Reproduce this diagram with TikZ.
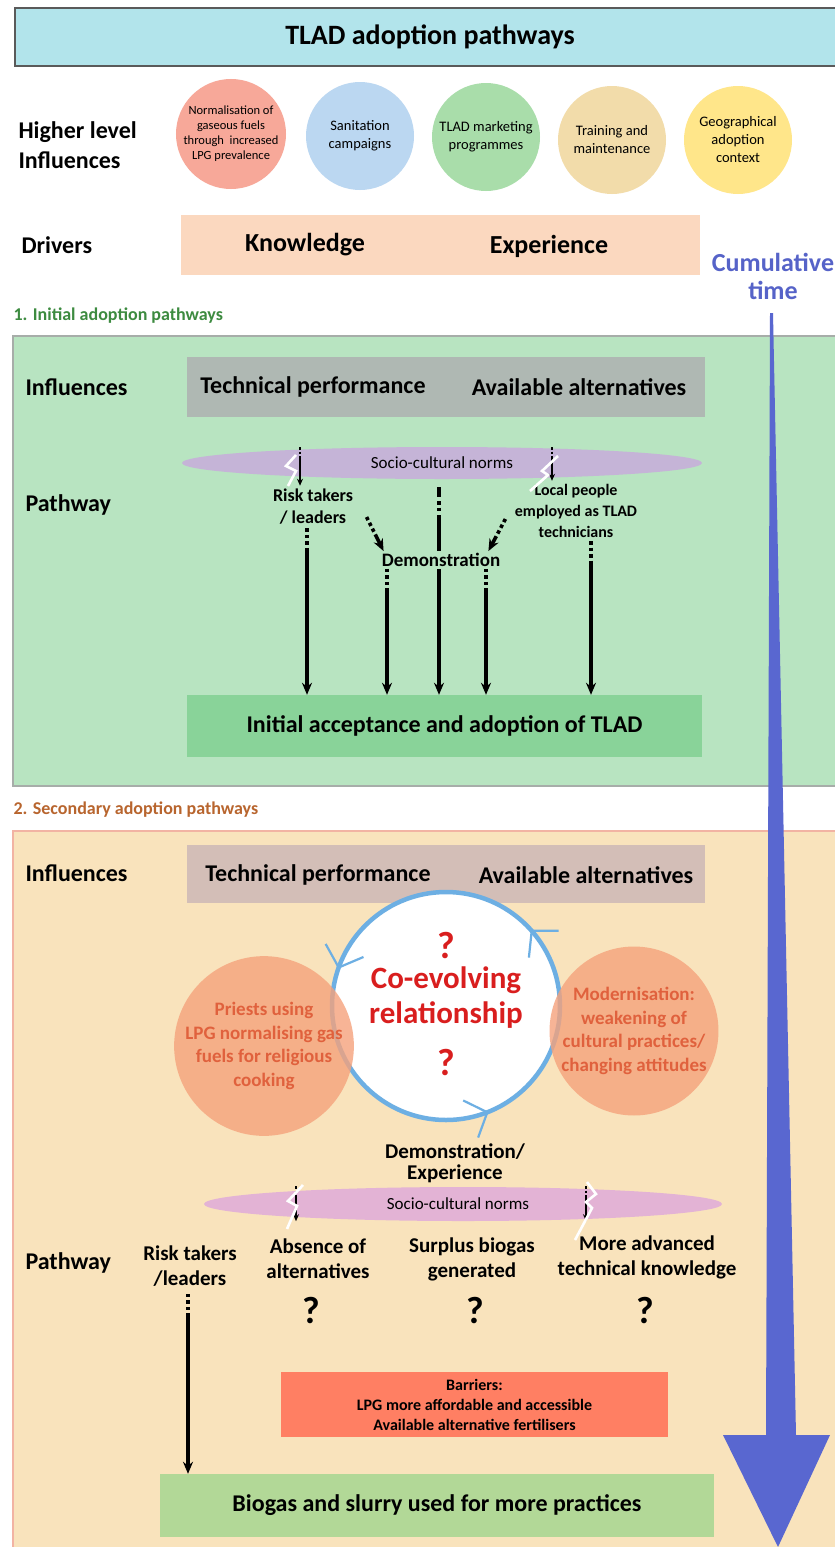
\documentclass[tikz,border=0pt]{standalone}
\usepackage{fontspec}
\setmainfont{Carlito}
\usepackage{tikz}
\usetikzlibrary{positioning,arrows.meta,shapes.geometric}

\definecolor{titlecyan}{HTML}{B2E4EB}
\definecolor{titleline}{HTML}{5A5A5A}
\definecolor{bsalmon}{HTML}{F7A899}
\definecolor{bblue}{HTML}{BBD7F1}
\definecolor{bgreen}{HTML}{A9DDAA}
\definecolor{btan}{HTML}{F2DCAA}
\definecolor{byellow}{HTML}{FFE68A}
\definecolor{driverpeach}{HTML}{FBD8BF}
\definecolor{cumblue}{HTML}{5663C8}
\definecolor{arrowblue}{HTML}{5967D0}
\definecolor{secagreen}{HTML}{3D8B40}
\definecolor{secafill}{HTML}{B8E4C1}
\definecolor{secaline}{HTML}{A7ADA9}
\definecolor{inflgray}{HTML}{AFB8B3}
\definecolor{normsa}{HTML}{C5B4D7}
\definecolor{initgreen}{HTML}{89D399}
\definecolor{secbbrown}{HTML}{B8652E}
\definecolor{secbfill}{HTML}{F9E3BC}
\definecolor{secbline}{HTML}{F2B3A3}
\definecolor{inflmauve}{HTML}{D3BEB7}
\definecolor{cycblue}{HTML}{6DAFE3}
\definecolor{cored}{HTML}{D91E1E}
\definecolor{orbfill}{HTML}{F5A27C}
\definecolor{orbtext}{HTML}{E0613D}
\definecolor{normsb}{HTML}{E3B3D5}
\definecolor{barrierred}{HTML}{FF7F63}
\definecolor{biogasgreen}{HTML}{B2D897}

\newcommand{\fsz}[2]{\fontsize{#1}{#2}\selectfont}

\begin{document}
\begin{tikzpicture}[x=1pt,y=-1pt,
	lbl/.style={anchor=west, font=\bfseries\fsz{24}{30}, align=left},
	big/.style={font=\bfseries\fsz{24}{28}},
	mid/.style={font=\bfseries\fsz{21}{25}, align=center},
	bar/.style={anchor=north west, inner sep=0pt},
	bubble/.style={circle, inner sep=0pt, minimum size=108pt, align=center, font=\fsz{14.5}{18}},
	orb/.style={circle, inner sep=0pt, fill=orbfill, fill opacity=0.8, text opacity=1, text=orbtext, align=center, font=\bfseries\fsz{19}{23.5}},
	norms/.style={ellipse, inner sep=0pt, minimum width=520pt, minimum height=32pt, font=\fsz{17}{20}},
	flow/.style={line width=3.6pt, -{Stealth[length=12pt,width=10pt]}},
	lead/.style={dash pattern=on 3.5pt off 3pt on 3.5pt off 3pt on 3.5pt off 3pt on 600pt},
	leadsolid/.style={dash pattern=on 10pt off 4pt on 3.5pt off 3pt on 3.5pt off 4pt on 600pt},
	smallflow/.style={line width=1.6pt, -{Stealth[length=7pt,width=6pt]}, dash pattern=on 2.5pt off 2pt on 2.5pt off 2pt on 100pt},
	zig/.style={white, line width=2.6pt},
	qmark/.style={font=\bfseries\fsz{38}{40}},
	cyc/.style={cycblue, line width=2.2pt, -{Straight Barb[length=18pt,width=40pt]}}]

	\useasboundingbox (0,0) rectangle (835,1547);
	\fill[white] (0,0) rectangle (835,1547);

	% header
	\node[fill=titlecyan, draw=titleline, line width=2pt, minimum width=830pt, minimum height=58pt, font=\bfseries\fsz{28}{32}] (title) at (430,37) {TLAD adoption pathways};

	\node[lbl] (hl) at (15,145) {Higher level\\Influences};
	\node[bubble, fill=bsalmon, font=\fsz{12.5}{15}] (c1) at (231,134) {Normalisation of\\gaseous fuels\\through~ increased\\LPG prevalence};
	\node[bubble, fill=bblue] (c2) at (360,136) {Sanitation\\campaigns};
	\node[bubble, fill=bgreen] (c3) at (486,137) {TLAD marketing\\programmes};
	\node[bubble, fill=btan] (c4) at (612,140) {Training and\\maintenance};
	\node[bubble, fill=byellow] (c5) at (738,140) {Geographical\\adoption\\context};

	\node[lbl] (drv) at (18,245) {Drivers};
	\node[bar, fill=driverpeach, minimum width=519pt, minimum height=60pt] (drvbox) at (181,215) {};
	\node[big, font=\bfseries\fsz{26}{30}] (know) at (305,245) {Knowledge};
	\node[big, font=\bfseries\fsz{26}{30}] (exper) at (549,246) {Experience};

	\node[font=\bfseries\fsz{26}{28}, text=cumblue, align=center] (cum) at (773,276) {Cumulative\\time};

	% 1. initial
	\node[anchor=west, font=\bfseries\fsz{18}{22}, text=secagreen] (seca) at (10,316) {1. Initial adoption pathways};
	\node[bar, fill=secafill, draw=secaline, line width=2pt, minimum width=830pt, minimum height=450pt] (secabox) at (12,335) {};

	\node[lbl] (infla) at (22,387) {Influences};
	\node[bar, fill=inflgray, minimum width=518pt, minimum height=60pt] (inflboxa) at (187,357) {};
	\node[big] (tpa) at (313,387) {Technical performance};
	\node[big] (aaa) at (579,387) {Available alternatives};

	\node[norms, fill=normsa] (normsa) at (442,463) {Socio-cultural norms};
	\node[lbl] (patha) at (22,505) {Pathway};
	\node[mid, font=\bfseries\fsz{18}{22}] (riska) at (313,507) {Risk takers\\/ leaders};
	\node[mid, font=\bfseries\fsz{16}{21}] (locala) at (576,511) {Local people\\employed as TLAD\\technicians};
	\node[big, fill=initgreen, minimum width=515pt, minimum height=62pt] (inita) at (444.5,726) {Initial acceptance and adoption of TLAD};

	\draw[flow, leadsolid, shorten <=8pt] ([xshift=-3pt]normsa.south) -- ([xshift=-3pt]normsa.south |- inita.north);
	\node[font=\bfseries\fsz{19}{22}, fill=secafill, inner sep=2pt] (demoa) at (441,560) {Demonstration};

	\draw[flow, lead] ([xshift=-6pt]riska.south) -- ([xshift=-6pt]riska.south |- inita.north);
	\draw[flow, lead] ([xshift=15pt]locala.south) -- ([xshift=15pt]locala.south |- inita.north);
	\draw[flow, lead] ([xshift=-54pt]demoa.south) -- ([xshift=-54pt]demoa.south |- inita.north);
	\draw[flow, lead] ([xshift=45pt]demoa.south) -- ([xshift=45pt]demoa.south |- inita.north);
	\draw[flow, lead] ([xshift=10pt,yshift=-10pt]riska.east) -- ([xshift=4pt]demoa.north west);
	\draw[flow, lead] ([xshift=-6pt,yshift=-8pt]locala.west) -- ([xshift=-14pt]demoa.north east);

	\coordinate (za) at (300,447);
	\coordinate (zb) at (552,447);
	\draw[smallflow] (za) -- (za |- riska.north);
	\draw[smallflow] (zb) -- (zb |- locala.north);
	\draw[zig] (296,455) -- (286,466) -- (296,471) -- (288,486);
	\draw[zig] (558,456) -- (542,471) -- (548,475) -- (530,491);

	% 2. secondary
	\node[anchor=west, font=\bfseries\fsz{18}{22}, text=secbbrown] (secb) at (10,810) {2. Secondary adoption pathways};
	\node[bar, fill=secbfill, draw=secbline, line width=2pt, minimum width=830pt, minimum height=740pt] (secbbox) at (12,830) {};

	\node[lbl] (inflb) at (22,873) {Influences};
	\node[bar, fill=inflmauve, minimum width=518pt, minimum height=58pt] (inflboxb) at (187,845) {};
	\node[big] (tpb) at (318,875) {Technical performance};
	\node[big] (aab) at (586,875) {Available alternatives};

	% time arrow
	\fill[arrowblue] (770,313) -- (773,313) -- (796,1435) -- (830,1435) -- (778,1547) -- (723,1435) -- (766,1435) -- cycle;

	\node[circle, fill=white, draw=cycblue, line width=4.5pt, minimum size=228pt, inner sep=0pt] (coev) at (446,1006) {};
	\draw[cyc] (coev.center) ++(-20:114) arc[start angle=-20, end angle=-42, radius=114];
	\draw[cyc] (coev.center) ++(225:114) arc[start angle=225, end angle=199, radius=114];
	\draw[cyc] (coev.center) ++(92:114) arc[start angle=92, end angle=68, radius=114];
	\node[qmark, text=cored] (qa) at (446,945) {?};
	\node[font=\bfseries\fsz{31}{35}, text=cored, align=center] (coevtxt) at (446,998) {Co-evolving\\relationship};
	\node[qmark, text=cored] (qb) at (446,1062) {?};

	\node[orb, minimum size=168pt] (priest) at (264,1046) {Priests using\\LPG normalising gas\\fuels for religious\\cooking};
	\node[orb, minimum size=164pt] (modern) at (634,1031) {Modernisation:\\weakening of\\cultural practices/\\changing attitudes};

	\node[font=\bfseries\fsz{21}{21}, align=center] (demob) at (455,1163) {Demonstration/\\Experience};
	\node[norms, fill=normsb, minimum width=518pt, minimum height=34pt] (normsb) at (463,1204) {};
	\node[font=\fsz{17}{20}] (normsbtxt) at (458,1204) {Socio-cultural norms};

	\coordinate (zc) at (296,1186);
	\coordinate (zd) at (586,1186);
	\draw[smallflow] (zc) -- (zc |- normsb.south);
	\draw[smallflow] (zd) -- (zd |- normsb.south);
	\draw[zig] (303,1185) -- (288,1201) -- (297,1206) -- (287,1229);
	\draw[zig] (587,1182) -- (596,1194) -- (586,1202) -- (592,1208) -- (575,1240);

	\node[lbl] (pathb) at (22,1263) {Pathway};
	\node[mid] (riskb) at (190,1266) {Risk takers\\/leaders};
	\node[mid] (absent) at (318,1259) {Absence of\\alternatives};
	\node[mid] (surplus) at (472,1259) {Surplus biogas\\generated};
	\node[mid] (advanced) at (647,1257) {More advanced\\technical knowledge};
	\node[qmark] (qc) at (311,1310) {?};
	\node[qmark] (qd) at (475,1310) {?};
	\node[qmark] (qe) at (645,1310) {?};

	\node[fill=barrierred, minimum width=387pt, minimum height=65pt, align=center, font=\bfseries\fsz{16}{20}] (barrier) at (474.5,1404.5) {Barriers:\\LPG more affordable and accessible\\Available alternative fertilisers};
	\node[big, fill=biogasgreen, minimum width=554pt, minimum height=63pt] (biogas) at (437,1505.5) {Biogas and slurry used for more practices};

	\draw[flow, lead, shorten <=4pt] ([xshift=-2pt]riskb.south) -- ([xshift=-2pt]riskb.south |- biogas.north);
\end{tikzpicture}
\end{document}
